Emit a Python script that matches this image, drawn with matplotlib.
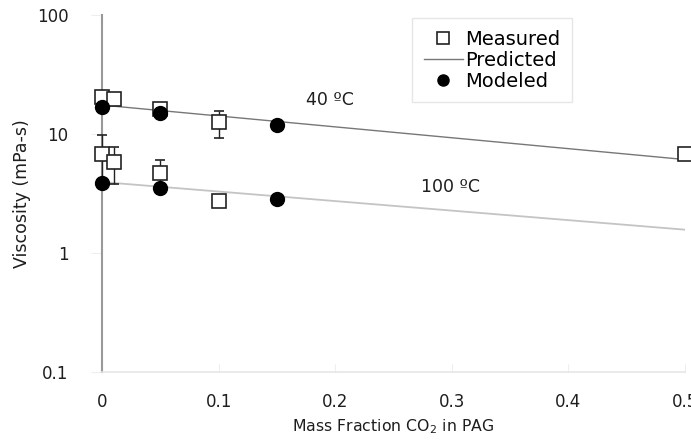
import matplotlib
matplotlib.use("Agg")
import matplotlib.pyplot as plt
from matplotlib.lines import Line2D

# data
mf_meas_40 = [0, 0.01, 0.05, 0.1, 0.5]
visc_meas_40 = [20.5, 19.5, 16.3, 12.5, 6.8]
err_meas_40 = [0.8, 0.8, 0.6, 3.2, 0.4]

mf_meas_100 = [0, 0.01, 0.05, 0.1]
visc_meas_100 = [6.8, 5.8, 4.7, 2.75]
err_meas_100 = [3.1, 2.0, 1.3, 0.15]

mf_model = [0, 0.05, 0.15]
visc_model_40 = [16.8, 15.0, 11.8]
visc_model_100 = [3.9, 3.55, 2.85]

mf_pred = [0, 0.5]
visc_pred_40 = [17.5, 6.1]
visc_pred_100 = [3.95, 1.57]

xticks = [0, 0.1, 0.2, 0.3, 0.4, 0.5]
xtick_labels = ["0", "0.1", "0.2", "0.3", "0.4", "0.5"]
yticks = [0.1, 1, 10, 100]
ytick_labels = ["0.1", "1", "10", "100"]

plt.rcParams["font.family"] = ["DejaVu Sans"]
plt.rcParams["mathtext.fontset"] = "dejavusans"

txt = "#1e1e1e"

fig = plt.figure(figsize=(6.91, 4.45), dpi=100)
ax = fig.add_axes([102 / 691, 1 - 372 / 445, 583 / 691, 357 / 445])

# predicted lines
ax.plot(mf_pred, visc_pred_40, color="#777777", lw=1.0, zorder=2)
ax.plot(mf_pred, visc_pred_100, color="#c4c4c4", lw=1.3, zorder=2)

# measured with error bars
for x, y, e in [(mf_meas_40, visc_meas_40, err_meas_40),
                (mf_meas_100, visc_meas_100, err_meas_100)]:
    ax.errorbar(x, y, yerr=e, fmt="s", mfc="white", mec="#222222", mew=1.2,
                ms=9.5, ecolor="#222222", elinewidth=1.0, capsize=3.5,
                capthick=1.0, zorder=3, clip_on=False)

# modeled
ax.plot(mf_model, visc_model_40, "o", color="black", ms=10, zorder=4, clip_on=False)
ax.plot(mf_model, visc_model_100, "o", color="black", ms=10, zorder=4, clip_on=False)

ax.set_yscale("log")
ax.set_xlim(0, 0.5)
ax.set_ylim(0.1, 100)
ax.set_xticks(xticks)
ax.set_xticklabels(xtick_labels)
ax.set_yticks(yticks)
ax.set_yticklabels(ytick_labels)
ax.minorticks_off()

for s in ["top", "right"]:
    ax.spines[s].set_visible(False)
ax.spines["left"].set_color("#999999")
ax.spines["left"].set_linewidth(1.5)
ax.spines["bottom"].set_color("#e6e6e6")
ax.spines["bottom"].set_linewidth(1.2)

ax.tick_params(axis="x", direction="in", length=6, color="#eeeeee",
               labelsize=12, pad=15, labelcolor=txt)
ax.tick_params(axis="y", direction="out", length=8, color="#eeeeee",
               labelsize=12, pad=16, labelcolor=txt)

ax.set_xlabel(r"Mass Fraction CO$_2$ in PAG", fontsize=11.3, color=txt, labelpad=5)
ax.set_ylabel("Viscosity (mPa-s)", fontsize=12.5, color=txt, labelpad=4)

ax.text(0.175, 19.2, "40 \u00baC", fontsize=12.5, va="center", color=txt)
ax.text(0.274, 3.56, "100 \u00baC", fontsize=12.5, va="center", color=txt)

handles = [
    Line2D([], [], marker="s", ls="none", mfc="white", mec="#222222", mew=1.2, ms=8),
    Line2D([], [], color="#777777", lw=1.0),
    Line2D([], [], marker="o", ls="none", color="black", ms=8),
]
leg = fig.legend(handles, ["Measured", "Predicted", "Modeled"],
                 loc="upper left", bbox_to_anchor=(412 / 691, 1 - 18 / 445),
                 borderaxespad=0, fancybox=False, fontsize=14,
                 handlelength=2.0, labelspacing=0.1, handletextpad=0.15,
                 borderpad=0.6)
leg.get_frame().set_edgecolor("#e0e0e0")
leg.get_frame().set_linewidth(1.0)

fig.savefig("out.png", dpi=100)
